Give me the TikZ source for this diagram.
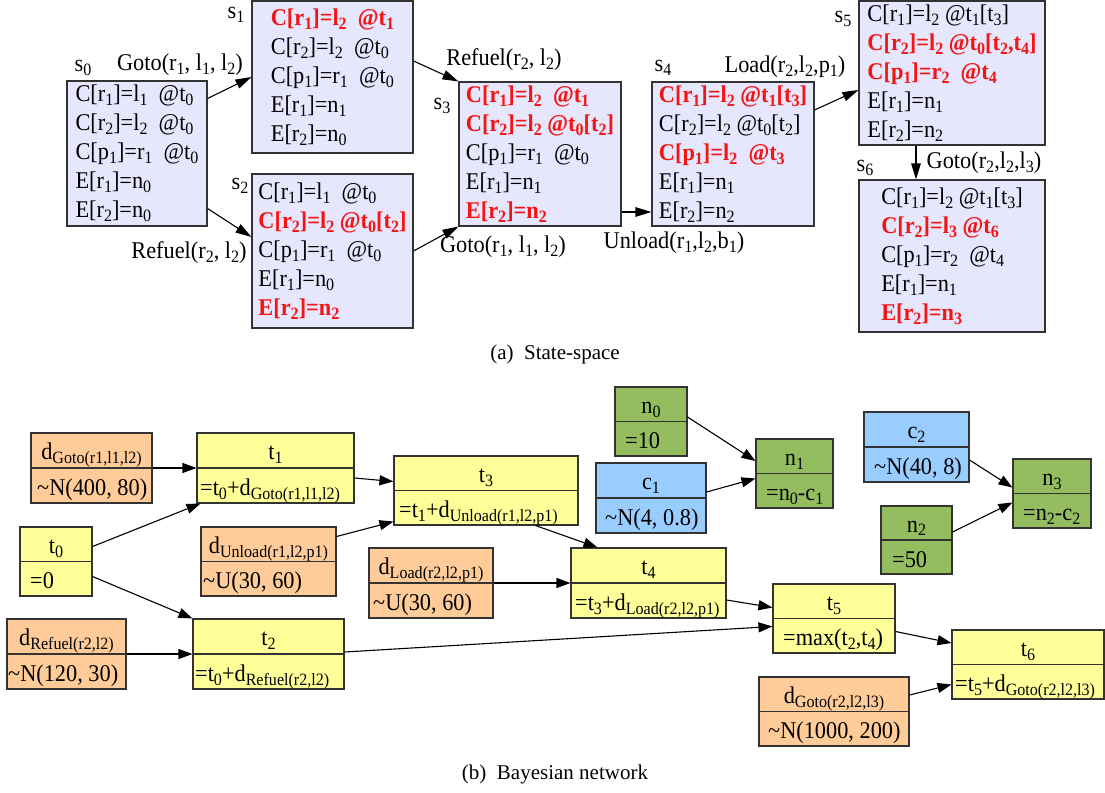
\documentclass[tikz,border=0pt]{standalone}
\usepackage{fontspec}
\setmainfont{Liberation Serif}
\newfontfamily\dfont[FakeStretch=0.93]{Liberation Serif}
\usepackage{graphicx}
\usetikzlibrary{arrows.meta}
\definecolor{lav}{RGB}{230,230,252}
\definecolor{yel}{RGB}{255,255,153}
\definecolor{ora}{RGB}{255,204,153}
\definecolor{grn}{RGB}{147,189,94}
\definecolor{blu}{RGB}{153,204,255}
\definecolor{rd}{RGB}{245,20,20}
\newcommand\lsub[1]{\raisebox{-0.16em}{\scalebox{0.72}{#1}}}
\newcommand\hl[1]{\textcolor{rd}{\bfseries #1}}
\tikzset{
  txt/.style={font=\dfont\fontsize{24}{29}\selectfont, inner sep=0pt},
  sbox/.style={draw=black!80, line width=1.1pt, fill=lav, align=left, inner sep=0pt,
     font=\dfont\fontsize{24}{29}\selectfont},
  rec/.style={draw=black!80, line width=1.1pt, inner sep=0pt},
  arr/.style={-{Triangle[length=14pt,width=10pt]}, line width=1.1pt, black},
  sarr/.style={-{Triangle[length=16pt,width=9.5pt]}, line width=1.1pt, black},
  captxt/.style={font=\fontsize{21}{24}\selectfont, inner sep=0pt}
}
\newcommand\rec[9]{%
  \node[rec, fill=#6, minimum width={#4-#2}, minimum height={#5-#3}] (#1) at ({(#2+#4)/2},{(#3+#5)/2}) {};
  \draw[line width=1.1pt, black!80] (#1.west) -- (#1.east);
  \node[txt, anchor=base] (#1t) at ({(#2+#4)/2},{#3+0.25*(#5-#3)+9}) {#8};
  \node[txt, anchor=base west] (#1b) at ({#2+#7},{#3+0.75*(#5-#3)+10}) {#9};
}
\begin{document}
\begin{tikzpicture}[x=1pt,y=-1pt]
\fill[white] (0,0) rectangle (1105,792);
\useasboundingbox (0,0) rectangle (1105,792);

% ---------- (a) State-space ----------
\node[sbox, minimum width=140, minimum height=145] (s0) at (137,153.5) {%
C[r\lsub{1}]=l\lsub{1}\ \ @t\lsub{0}\\
C[r\lsub{2}]=l\lsub{2}\ \ @t\lsub{0}\\
C[p\lsub{1}]=r\lsub{1}\ \ @t\lsub{0}\\
E[r\lsub{1}]=n\lsub{0}\\
E[r\lsub{2}]=n\lsub{0}};
\node[sbox, minimum width=161, minimum height=152] (s1) at (332.5,77) {%
\hl{C[r\lsub{1}]=l\lsub{2}\ \ @t\lsub{1}}\\
C[r\lsub{2}]=l\lsub{2}\ \ @t\lsub{0}\\
C[p\lsub{1}]=r\lsub{1}\ \ @t\lsub{0}\\
E[r\lsub{1}]=n\lsub{1}\\
E[r\lsub{2}]=n\lsub{0}};
\node[sbox, minimum width=161, minimum height=154] (s2) at (332.5,251) {%
C[r\lsub{1}]=l\lsub{1}\ \ @t\lsub{0}\\
\hl{C[r\lsub{2}]=l\lsub{2} @t\lsub{0}[t\lsub{2}]}\\
C[p\lsub{1}]=r\lsub{1}\ \ @t\lsub{0}\\
E[r\lsub{1}]=n\lsub{0}\\
\hl{E[r\lsub{2}]=n\lsub{2}}};
\node[sbox, minimum width=162, minimum height=144] (s3) at (540,154) {%
\hl{C[r\lsub{1}]=l\lsub{2}\ \ @t\lsub{1}}\\
\hl{C[r\lsub{2}]=l\lsub{2} @t\lsub{0}[t\lsub{2}]}\\
C[p\lsub{1}]=r\lsub{1}\ \ @t\lsub{0}\\
E[r\lsub{1}]=n\lsub{1}\\
\hl{E[r\lsub{2}]=n\lsub{2}}};
\node[sbox, minimum width=162, minimum height=144] (s4) at (733,154) {%
\hl{C[r\lsub{1}]=l\lsub{2} @t\lsub{1}[t\lsub{3}]}\\
C[r\lsub{2}]=l\lsub{2} @t\lsub{0}[t\lsub{2}]\\
\hl{C[p\lsub{1}]=l\lsub{2}\ \ @t\lsub{3}}\\
E[r\lsub{1}]=n\lsub{1}\\
E[r\lsub{2}]=n\lsub{2}};
\node[sbox, minimum width=186, minimum height=144] (s5) at (952,73) {%
C[r\lsub{1}]=l\lsub{2} @t\lsub{1}[t\lsub{3}]\\
\hl{C[r\lsub{2}]=l\lsub{2} @t\lsub{0}[t\lsub{2},t\lsub{4}]}\\
\hl{C[p\lsub{1}]=r\lsub{2}\ \ @t\lsub{4}}\\
E[r\lsub{1}]=n\lsub{1}\\
E[r\lsub{2}]=n\lsub{2}};
\node[sbox, minimum width=186, minimum height=152] (s6) at (952,256) {%
C[r\lsub{1}]=l\lsub{2} @t\lsub{1}[t\lsub{3}]\\
\hl{C[r\lsub{2}]=l\lsub{3} @t\lsub{6}}\\
C[p\lsub{1}]=r\lsub{2}\ \ @t\lsub{4}\\
E[r\lsub{1}]=n\lsub{1}\\
\hl{E[r\lsub{2}]=n\lsub{3}}};

\node[txt] (l0) at (83,68) {s\lsub{0}};
\node[txt] (l1) at (236,15) {s\lsub{1}};
\node[txt] (l2) at (240,186) {s\lsub{2}};
\node[txt] (l3) at (442,106) {s\lsub{3}};
\node[txt] (l4) at (663,68) {s\lsub{4}};
\node[txt] (l5) at (843,19) {s\lsub{5}};
\node[txt] (l6) at (865,168) {s\lsub{6}};

\node[txt] (e01) at (180,65) {Goto(r\lsub{1}, l\lsub{1}, l\lsub{2})};
\node[txt] (e02) at (189,253) {Refuel(r\lsub{2}, l\lsub{2})};
\node[txt] (e13) at (504,60) {Refuel(r\lsub{2}, l\lsub{2})};
\node[txt] (e23) at (503,247) {Goto(r\lsub{1}, l\lsub{1}, l\lsub{2})};
\node[txt] (e34) at (674,243) {Unload(r\lsub{1},l\lsub{2},b\lsub{1})};
\node[txt] (e45) at (785,67) {Load(r\lsub{2},l\lsub{2},p\lsub{1})};
\node[txt] (e56) at (984,163) {Goto(r\lsub{2},l\lsub{2},l\lsub{3})};

\draw[sarr] ([yshift=55pt]s0.east) -- (s1.west);
\draw[sarr] ([yshift=-55pt]s0.east) -- ([yshift=14pt]s2.west);
\draw[sarr] ([yshift=16pt]s1.east) -- (s3.north west);
\draw[sarr] (s2.east) -- (s3.south west);
\draw[sarr] ([yshift=-58pt]s3.east) -- ([yshift=-58pt]s4.west);
\draw[sarr] ([yshift=44pt]s4.east) -- ([yshift=-17pt]s5.west);
\draw[sarr] ([xshift=-36pt]s5.south) -- ([xshift=-36pt]s6.north);

\node[captxt] (capa) at (555,354) {(a)\ \ State-space};

% ---------- (b) Bayesian network ----------
\rec{dga}{31}{433}{152}{503}{ora}{6}{d\lsub{Goto(r1,l1,l2)}}{\textasciitilde N(400, 80)}
\rec{ta}{197}{433}{354}{503}{yel}{3}{t\lsub{1}}{=t\lsub{0}+d\lsub{Goto(r1,l1,l2)}}
\rec{tz}{20}{527}{92}{596}{yel}{10}{t\lsub{0}}{=0}
\rec{dun}{201}{527}{336}{596}{ora}{2}{d\lsub{Unload(r1,l2,p1)}}{\textasciitilde U(30, 60)}
\rec{drf}{7}{619}{126}{689}{ora}{1}{d\lsub{Refuel(r2,l2)}}{\textasciitilde N(120, 30)}
\rec{tb}{193}{619}{344}{689}{yel}{2}{t\lsub{2}}{=t\lsub{0}+d\lsub{Refuel(r2,l2)}}
\rec{tc}{394}{456}{578}{525}{yel}{5}{t\lsub{3}}{=t\lsub{1}+d\lsub{Unload(r1,l2,p1)}}
\rec{nz}{615}{387}{687}{456}{grn}{10}{n\lsub{0}}{=10}
\rec{ca}{596}{463}{706}{533}{blu}{9}{c\lsub{1}}{\textasciitilde N(4, 0.8)}
\rec{dld}{369}{548}{493}{618}{ora}{4}{d\lsub{Load(r2,l2,p1)}}{\textasciitilde U(30, 60)}
\rec{td}{571}{548}{726}{618}{yel}{4}{t\lsub{4}}{=t\lsub{3}+d\lsub{Load(r2,l2,p1)}}
\rec{na}{756}{439}{833}{508}{grn}{10}{n\lsub{1}}{=n\lsub{0}-c\lsub{1}}
\rec{cb}{864}{412}{969}{482}{blu}{10}{c\lsub{2}}{\textasciitilde N(40, 8)}
\rec{nc}{1013}{459}{1091}{528}{grn}{10}{n\lsub{3}}{=n\lsub{2}-c\lsub{2}}
\rec{nb}{881}{506}{952}{574}{grn}{11}{n\lsub{2}}{=50}
\rec{te}{773}{584}{895}{653}{yel}{10}{t\lsub{5}}{=max(t\lsub{2},t\lsub{4})}
\rec{tf}{952}{630}{1104}{699}{yel}{3}{t\lsub{6}}{=t\lsub{5}+d\lsub{Goto(r2,l2,l3)}}
\rec{dgc}{759}{677}{909}{746}{ora}{9}{d\lsub{Goto(r2,l2,l3)}}{\textasciitilde N(1000, 200)}

\draw[arr] (dga.east) -- (ta.west);
\draw[arr] ([yshift=15pt]tz.east) -- ([xshift=4pt]ta.south west);
\draw[arr] ([yshift=-15pt]tz.east) -- (tb.north west);
\draw[arr] (drf.east) -- (tb.west);
\draw[arr] ([yshift=-10pt]ta.east) -- ([yshift=9pt]tc.west);
\draw[arr] ([yshift=25pt]dun.east) -- ([yshift=4pt]tc.south west);
\draw[arr] ([xshift=-43pt]tc.south east) -- ([xshift=27pt]td.north west);
\draw[arr] (dld.east) -- (td.west);
\draw[arr] ([yshift=2pt]tb.east) -- ([yshift=-8pt]te.west);
\draw[arr] ([yshift=-17pt]td.east) -- ([yshift=11pt]te.west);
\draw[arr] ([yshift=4.5pt]nz.east) -- ([yshift=12.5pt]na.west);
\draw[arr] ([yshift=6pt]ca.east) -- ([yshift=-5pt]na.west);
\draw[arr] ([yshift=-13pt]cb.east) -- ([yshift=6pt]nc.west);
\draw[arr] ([yshift=8pt]nb.east) -- ([yshift=-9pt]nc.west);
\draw[arr] ([yshift=-13pt]te.east) -- ([yshift=21.5pt]tf.west);
\draw[arr] ([yshift=16.5pt]dgc.east) -- ([yshift=-20pt]tf.west);

\node[captxt] (capb) at (555,774) {(b)\ \ Bayesian network};
\end{tikzpicture}
\end{document}
